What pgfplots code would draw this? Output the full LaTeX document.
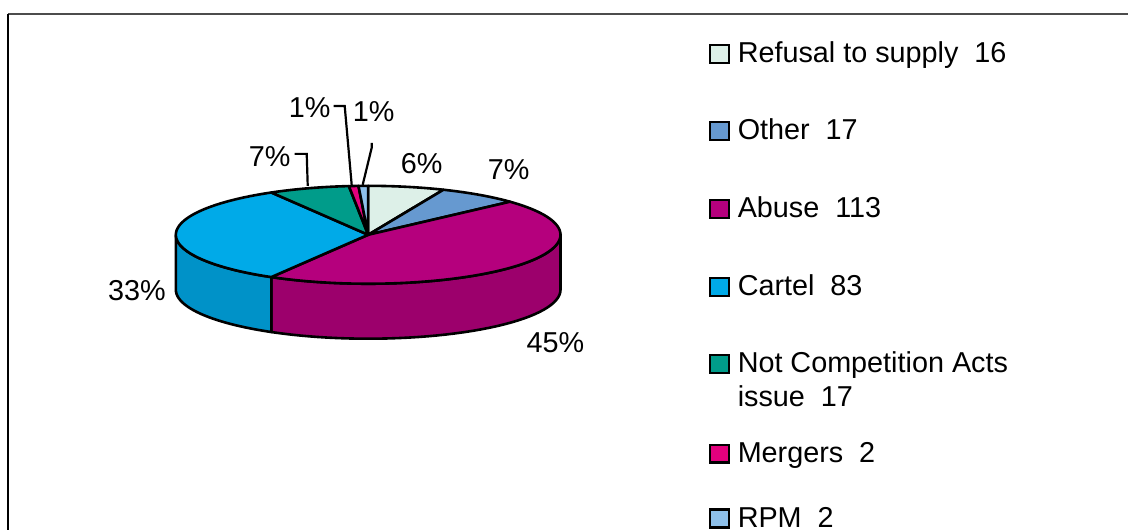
\documentclass[border=0pt]{standalone}
\usepackage{pgfplots}
\pgfplotsset{compat=1.18}
\usepackage{pgfplotstable}
\usepackage{fontspec}
\setmainfont{Liberation Sans}

% slice colours, clockwise from 12 o'clock
\definecolor{slice0}{HTML}{DDF0E8} % Refusal to supply
\definecolor{slice1}{HTML}{6699D0} % Other
\definecolor{slice2}{HTML}{B5007D} % Abuse
\definecolor{slice3}{HTML}{00AAE8} % Cartel
\definecolor{slice4}{HTML}{009C8A} % Not Competition Acts issue
\definecolor{slice5}{HTML}{E3007D} % Mergers
\definecolor{slice6}{HTML}{8EC0EA} % RPM

% number of cases per category
\pgfplotstableread{
idx count
0 16
1 17
2 113
3 83
4 17
5 2
6 2
}\piedata

% pie geometry (axis units = pixels)
\def\cx{368.5}
\def\cy{295}
\def\rx{192.5}
\def\ry{49}
\def\h{55}

% legend swatch with its text, baseline at #1
\newcommand\legitem[3]{%
  \draw[fill=#2, line width=1.1pt] (axis cs:711,#1) rectangle (axis cs:730,#1+18);
  \node[anchor=base west, inner sep=0pt] at (axis cs:738,#1) {#3};
}

\begin{document}
\begin{tikzpicture}[font=\fontsize{14.4}{16}\selectfont]

% total and start/end angle of every slice
\pgfplotstablegetrowsof{\piedata}
\pgfmathtruncatemacro\nrows{\pgfplotsretval-1}
\xdef\total{0}
\foreach \i in {0,...,\nrows}{%
  \pgfplotstablegetelem{\i}{count}\of\piedata
  \pgfmathsetmacro\tmp{\total+\pgfplotsretval}%
  \xdef\total{\tmp}%
}
\xdef\cum{0}
\foreach \i in {0,...,\nrows}{%
  \pgfplotstablegetelem{\i}{count}\of\piedata
  \let\cnt\pgfplotsretval
  \pgfmathsetmacro\sa{90-(\cum/\total)*360}%
  \pgfmathsetmacro\tmp{\cum+\cnt}%
  \xdef\cum{\tmp}%
  \pgfmathsetmacro\ea{90-(\cum/\total)*360}%
  \pgfmathsetmacro\hiv{min(\sa,0)}%
  \pgfmathsetmacro\lov{max(\ea,-180)}%
  \expandafter\xdef\csname sliceS\i\endcsname{\sa}%
  \expandafter\xdef\csname sliceE\i\endcsname{\ea}%
  \expandafter\xdef\csname sliceHi\i\endcsname{\hiv}%
  \expandafter\xdef\csname sliceLo\i\endcsname{\lov}%
}

\begin{axis}[
  hide axis, x=0.5pt, y=0.5pt,
  xmin=0, xmax=1129, ymin=0, ymax=530,
  clip=false, trig format plots=deg,
]

% whole chart area
\path (axis cs:0,0) rectangle (axis cs:1129,530);

% front rim of the pie
\pgfplotsinvokeforeach{0,...,6}{%
  \edef\lo{\csname sliceLo#1\endcsname}%
  \edef\hi{\csname sliceHi#1\endcsname}%
  \ifdim\lo pt<\hi pt
    \addplot[fill=slice#1!86!black, draw=black, line width=1.3pt, line join=round,
      variable=\t, samples at={0,...,81}]
      ({\cx+\rx*cos((\t<40.5)*(\hi+(\lo-\hi)*\t/40)+(\t>40.5)*(\lo+(\hi-\lo)*(\t-41)/40))},
       {\cy+\ry*sin((\t<40.5)*(\hi+(\lo-\hi)*\t/40)+(\t>40.5)*(\lo+(\hi-\lo)*(\t-41)/40))-(\t>40.5)*\h})
      -- cycle;
  \fi
}

% top faces
\pgfplotsinvokeforeach{0,...,6}{%
  \edef\s{\csname sliceS#1\endcsname}%
  \edef\e{\csname sliceE#1\endcsname}%
  \addplot[fill=slice#1, draw=black, line width=1.3pt, line join=round,
    variable=\t, domain=\e:\s, samples=80]
    ({\cx+\rx*cos(\t)},{\cy+\ry*sin(\t)}) -- (axis cs:\cx,\cy) -- cycle;
}

% percentage labels
\node at (axis cs:422,366) {6\%};
\node at (axis cs:509,360) {7\%};
\node at (axis cs:556,187) {45\%};
\node at (axis cs:137,239) {33\%};
\node at (axis cs:270,373) {7\%};
\node at (axis cs:310,422) {1\%};
\node at (axis cs:374,418) {1\%};

% leader lines
\draw[line width=1.1pt] (axis cs:295,376) -- (axis cs:307,376) -- (axis cs:308,344);
\draw[line width=1.1pt] (axis cs:334,424) -- (axis cs:345,424) -- (axis cs:352,345);
\draw[line width=1.1pt] (axis cs:372,387) -- (axis cs:372,382) -- (axis cs:363,345);

% legend
\legitem{467}{slice0}{Refusal to supply\ \ 16}
\legitem{390}{slice1}{Other\ \ 17}
\legitem{312}{slice2}{Abuse\ \ 113}
\legitem{234}{slice3}{Cartel\ \ 83}
\legitem{157}{slice4}{Not Competition Acts}
\node[anchor=base west, inner sep=0pt] at (axis cs:738,123) {issue\ \ 17};
\legitem{67}{slice5}{Mergers\ \ 2}
\legitem{2}{slice6}{RPM\ \ 2}

% frame
\draw[black!70, line width=1pt] (axis cs:8,516) -- (axis cs:1129,516);
\draw[black, line width=1pt] (axis cs:8,516) -- (axis cs:8,0);
\end{axis}
\end{tikzpicture}
\end{document}
